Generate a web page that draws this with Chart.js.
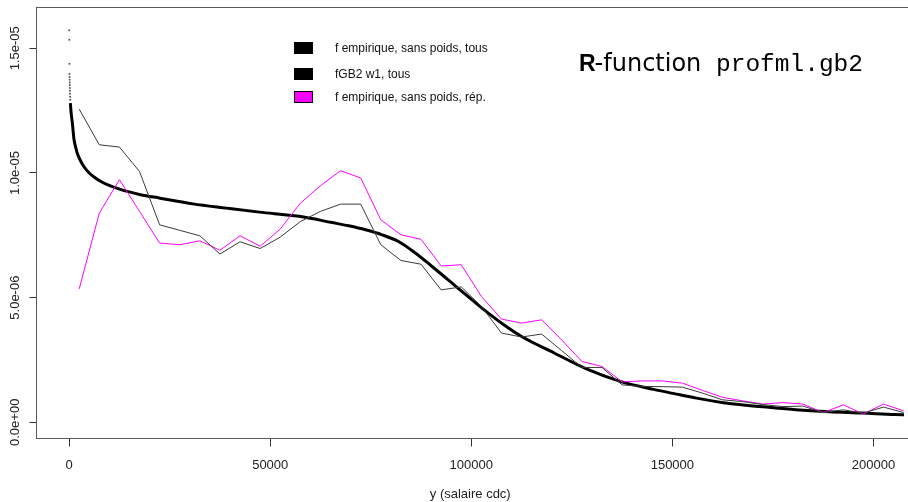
<!DOCTYPE html>
<html>
<head>
<meta charset="utf-8">
<script src="https://cdn.jsdelivr.net/npm/chart.js@4.4.1/dist/chart.umd.min.js"></script>
<style>
  html, body { margin: 0; padding: 0; background: #fff; overflow: hidden; }
  #wrap { width: 908px; height: 502px; }
</style>
</head>
<body>
<div id="wrap"><canvas id="chart-line" width="908" height="502"></canvas></div>
<script>
// empirical densities: one value every 5000 (class centres)
const classCentres = [2500, 7500, 12500, 17500, 22500, 27500, 32500, 37500, 42500, 47500,
  52500, 57500, 62500, 67500, 72500, 77500, 82500, 87500, 92500, 97500,
  102500, 107500, 112500, 117500, 122500, 127500, 132500, 137500, 142500, 147500,
  152500, 157500, 162500, 167500, 172500, 177500, 182500, 187500, 192500, 197500,
  202500, 207500];

// f empirique, sans poids, tous  (values x 1e-5)
const empTous = [1.256, 1.113, 1.104, 1.006, 0.792, 0.770, 0.748, 0.675, 0.724, 0.697,
  0.743, 0.805, 0.846, 0.875, 0.875, 0.712, 0.649, 0.634, 0.531, 0.543,
  0.465, 0.358, 0.342, 0.354, 0.287, 0.220, 0.220, 0.150, 0.144, 0.143,
  0.141, 0.117, 0.090, 0.083, 0.071, 0.063, 0.065, 0.039, 0.050, 0.037,
  0.061, 0.039];

// f empirique, sans poids, rep.  (values x 1e-5)
const empRep = [0.535, 0.839, 0.973, 0.846, 0.719, 0.712, 0.728, 0.690, 0.748, 0.706,
  0.775, 0.879, 0.949, 1.009, 0.980, 0.812, 0.752, 0.734, 0.627, 0.632,
  0.505, 0.414, 0.398, 0.411, 0.330, 0.244, 0.224, 0.162, 0.166, 0.166,
  0.157, 0.128, 0.100, 0.086, 0.073, 0.079, 0.073, 0.039, 0.070, 0.033,
  0.073, 0.046];

// fGB2 w1, tous : fitted density evaluated at sample points
const gb2X = [300, 500, 800, 1200, 1600, 2000, 2800, 3650, 5000, 6100,
  8000, 10250, 12700, 14400, 17700, 22600, 30800, 39100, 47300, 57200,
  65400, 69500, 73700, 77800, 81900, 86000, 90100, 94200, 98400, 102500,
  108000, 112400, 120600, 128800, 137000, 145300, 151000, 156000, 164200, 172500,
  180700, 189000, 197200, 205400, 208000];
const gb2Y = [1.280, 1.240, 1.200, 1.135, 1.105, 1.080, 1.050, 1.026, 1.000, 0.985,
  0.965, 0.948, 0.934, 0.926, 0.913, 0.899, 0.876, 0.859, 0.843, 0.826,
  0.801, 0.788, 0.772, 0.752, 0.725, 0.680, 0.627, 0.572, 0.515, 0.460,
  0.392, 0.345, 0.278, 0.213, 0.164, 0.132, 0.113, 0.097, 0.075, 0.062,
  0.050, 0.042, 0.037, 0.031, 0.030];
// isolated points of the fitted density at the smallest incomes
const gb2TopX = [20, 40, 60, 80, 100, 120, 140, 160, 180, 200, 220, 240, 260];
const gb2TopY = [1.572, 1.534, 1.438, 1.397, 1.385, 1.374, 1.363, 1.353, 1.341, 1.330, 1.318, 1.306, 1.294];

const xTicks = [0, 50000, 100000, 150000, 200000];
const yTicks = [0, 0.5e-5, 1.0e-5, 1.5e-5];
const yTickLabels = ["0.0e+00", "5.0e-06", "1.0e-05", "1.5e-05"];

const legendLabels = ["f empirique, sans poids, tous", "fGB2 w1, tous", "f empirique, sans poids, rép."];
const legendColors = ["#000000", "#000000", "#ff00ff"];

function toPoints(xs, ys) {
  return xs.map((x, i) => ({ x: x, y: ys[i] * 1e-5 }));
}

const decorations = {
  id: "decorations",
  afterDraw(chart) {
    const ctx = chart.ctx;
    const a = chart.chartArea;
    ctx.save();
    // box
    ctx.strokeStyle = "#5a5a5a";
    ctx.lineWidth = 1;
    ctx.strokeRect(a.left, a.top, a.right - a.left + 10, a.bottom - a.top);

    // y tick labels, rotated like R
    const ys = chart.scales.y;
    ctx.fillStyle = "#222";
    ctx.font = "13px 'Liberation Sans', Arial, sans-serif";
    ctx.textAlign = "center";
    ctx.textBaseline = "middle";
    yTicks.forEach((v, i) => {
      const py = ys.getPixelForValue(v);
      ctx.save();
      ctx.translate(15, py);
      ctx.rotate(-Math.PI / 2);
      ctx.fillText(yTickLabels[i], 0, 0);
      ctx.restore();
    });

    // legend
    const rows = [48, 74, 97];
    ctx.font = "12px 'Liberation Sans', Arial, sans-serif";
    ctx.textAlign = "left";
    legendLabels.forEach((lab, i) => {
      const cy = rows[i];
      ctx.fillStyle = legendColors[i];
      ctx.fillRect(294, cy - 6, 19, 12);
      ctx.strokeStyle = "#000";
      ctx.strokeRect(294.5, cy - 5.5, 18, 11);
      ctx.fillStyle = "#111";
      ctx.fillText(lab, 335, cy + 1);
    });

    // annotation
    ctx.fillStyle = "#000";
    ctx.textBaseline = "alphabetic";
    ctx.font = "bold 23px 'Liberation Sans', Arial, sans-serif";
    ctx.fillText("R", 579, 71);
    const w = ctx.measureText("R").width;
    ctx.font = "24px 'DejaVu Sans', sans-serif";
    ctx.fillText("-function", 579 + w - 1, 71);
    ctx.font = "24.5px 'Liberation Mono', monospace";
    ctx.fillText("profml.gb2", 716, 71);
    ctx.restore();
  }
};

const ctx = document.getElementById("chart-line");
const myChart = new Chart(ctx, {
  type: "line",
  data: {
    datasets: [
      {
        label: legendLabels[0],
        data: toPoints(classCentres, empTous),
        borderColor: "#3a3a3a",
        borderWidth: 1,
        pointRadius: 0,
        tension: 0,
        fill: false,
        order: 1,
      },
      {
        label: legendLabels[2],
        data: toPoints(classCentres, empRep),
        borderColor: "#ff00ff",
        borderWidth: 1,
        pointRadius: 0,
        tension: 0,
        fill: false,
        order: 2,
      },
      {
        label: legendLabels[1],
        data: toPoints(gb2X, gb2Y),
        borderColor: "#000000",
        borderWidth: 3,
        pointRadius: 0,
        cubicInterpolationMode: "monotone",
        fill: false,
        order: 3,
      },
      {
        label: "gb2 points",
        data: toPoints(gb2TopX, gb2TopY),
        showLine: false,
        pointRadius: 1,
        pointBorderWidth: 0,
        pointBackgroundColor: "#555",
        order: 4,
      },
    ],
  },
  options: {
    responsive: false,
    animation: false,
    devicePixelRatio: 1,
    layout: { padding: { left: 0, right: 0, top: 7.5, bottom: 0 } },
    plugins: {
      legend: { display: false },
      tooltip: { enabled: false },
    },
    scales: {
      x: {
        type: "linear",
        min: -8119,
        max: 207599,
        afterBuildTicks: (scale) => { scale.ticks = xTicks.map((v) => ({ value: v })); },
        afterFit: (scale) => { scale.height = 63.5; },
        grid: { drawOnChartArea: false, drawTicks: true, tickLength: 8, color: "#333" },
        border: { display: false },
        ticks: {
          color: "#222",
          padding: 11,
          maxRotation: 0,
          font: { family: "'Liberation Sans', Arial, sans-serif", size: 13 },
          callback: (v) => String(v),
        },
        title: {
          display: true,
          text: "y (salaire cdc)",
          color: "#222",
          padding: { top: 0, bottom: 0 },
          font: { family: "'Liberation Sans', Arial, sans-serif", size: 13 },
        },
      },
      y: {
        type: "linear",
        min: -6.5e-7,
        max: 1.6637e-5,
        afterBuildTicks: (scale) => { scale.ticks = yTicks.map((v) => ({ value: v })); },
        afterFit: (scale) => { scale.width = 36.5; },
        grid: { drawOnChartArea: false, drawTicks: true, tickLength: 7, color: "#333" },
        border: { display: false },
        ticks: { display: false },
      },
    },
  },
  plugins: [decorations],
});
</script>
</body>
</html>
